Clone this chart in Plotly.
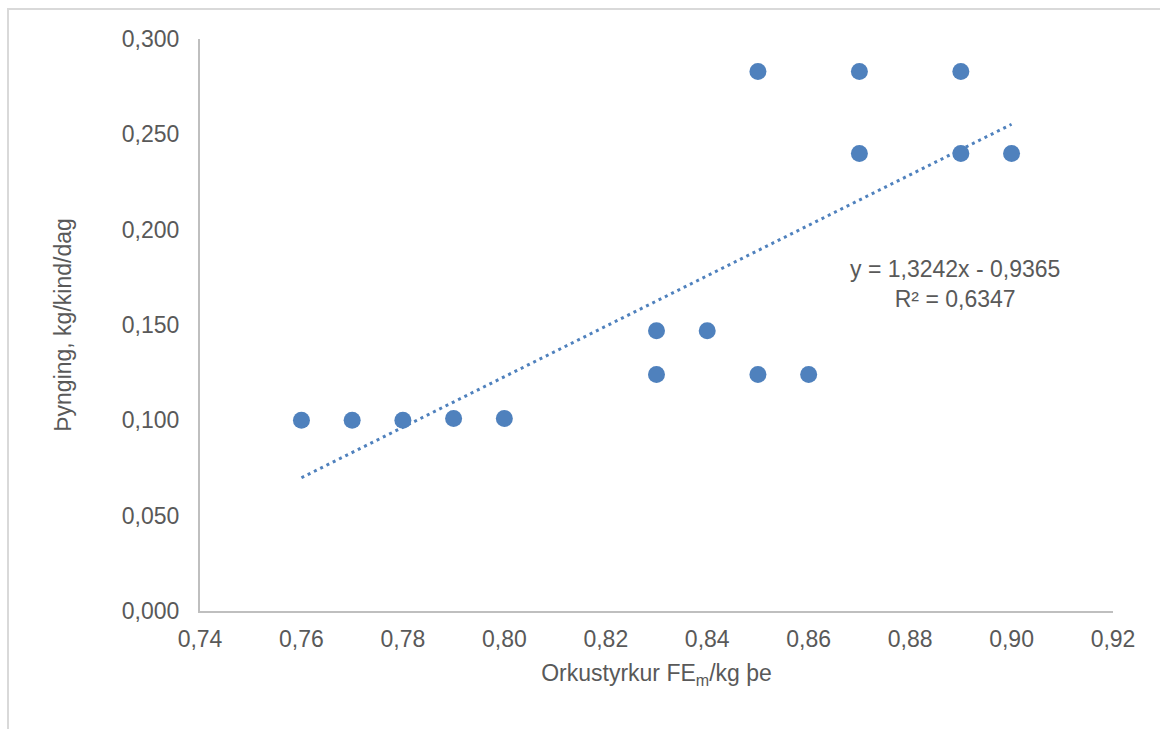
import plotly.graph_objects as go

x_vals = [0.76, 0.77, 0.78, 0.79, 0.80, 0.83, 0.83, 0.84, 0.85, 0.86, 0.85, 0.87, 0.87, 0.89, 0.89, 0.90]
y_vals = [0.100, 0.100, 0.100, 0.101, 0.101, 0.147, 0.124, 0.147, 0.124, 0.124, 0.283, 0.283, 0.240, 0.283, 0.240, 0.240]
slope = 1.3242
intercept = -0.9365
trend_x = [min(x_vals), max(x_vals)]
trend_y = [slope * v + intercept for v in trend_x]

x_title = "Orkustyrkur FE<sub>m</sub>/kg þe"
y_title = "Þynging, kg/kind/dag"
eq_text = "y = 1,3242x - 0,9365<br>R² = 0,6347"

blue = "#4F81BD"
gray_text = "#595959"
font = "Liberation Sans, Arial, sans-serif"

fig = go.Figure()
fig.add_trace(go.Scatter(x=trend_x, y=trend_y, mode="lines",
                         line=dict(color=blue, width=3, dash="3px,4px"),
                         hoverinfo="skip", showlegend=False))
fig.add_trace(go.Scatter(x=x_vals, y=y_vals, mode="markers",
                         marker=dict(color=blue, size=17),
                         showlegend=False))

fig.update_layout(
    width=1160, height=729,
    margin=dict(l=200, r=47, t=39, b=118),
    paper_bgcolor="white", plot_bgcolor="white",
    separators=",.",
    font=dict(family=font, size=23, color=gray_text),
    xaxis=dict(range=[0.74, 0.92], dtick=0.02, tick0=0.74, tickformat=".2f",
               showgrid=False, zeroline=False, showline=True,
               linecolor="#BFBFBF", linewidth=2, ticks="outside", ticklen=6,
               tickcolor="rgba(0,0,0,0)",
               title=dict(text=x_title, standoff=14, font=dict(size=23, color=gray_text))),
    yaxis=dict(range=[0, 0.3], dtick=0.05, tickformat=".3f",
               showgrid=False, zeroline=False, showline=True,
               linecolor="#BFBFBF", linewidth=2, ticks="outside", ticklen=14, tickcolor="rgba(0,0,0,0)",
               title=dict(text=y_title, standoff=44, font=dict(size=23, color=gray_text))),
    annotations=[dict(x=(955 - 200) / 913, y=(611 - 284) / 572, xref="paper", yref="paper",
                      xanchor="center", yanchor="middle", align="center",
                      text=eq_text, showarrow=False)],
    shapes=[dict(type="rect", xref="paper", yref="paper",
                 x0=(8 - 200) / 913, x1=(1175 - 200) / 913,
                 y0=(611 - 745) / 572, y1=(611 - 9) / 572,
                 line=dict(color="#D9D9D9", width=2), layer="below")],
)

fig.write_html("out.html")
